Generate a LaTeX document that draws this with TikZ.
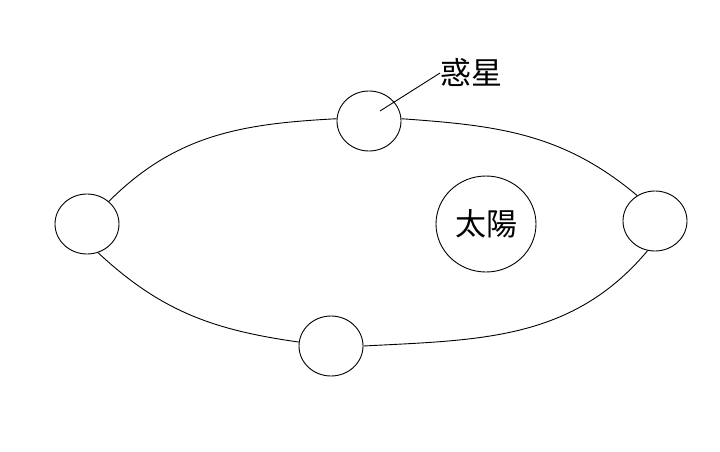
\documentclass[tikz,border=0pt]{standalone}
\usepackage{fontspec}
\newfontfamily\jpfont{Noto Sans CJK JP}
\usetikzlibrary{shapes.geometric}
\begin{document}
\begin{tikzpicture}[x=1pt,y=1pt,line width=0.9pt,
  planet/.style={ellipse,draw,minimum width=64pt,minimum height=60pt,inner sep=0pt},
  sun/.style={ellipse,draw,minimum width=100pt,minimum height=96pt,inner sep=0pt,font=\jpfont\fontsize{31pt}{33pt}\selectfont},
  lbl/.style={inner sep=0pt,font=\jpfont\fontsize{31pt}{33pt}\selectfont},
  orbit/.style={draw}]
\useasboundingbox[fill=white] (0,0) rectangle (720,451);
\node[planet] (L) at (87,227) {};
\node[planet] (T) at (369,330) {};
\node[planet] (R) at (655,230) {};
\node[planet] (B) at (331,105) {};
\node[sun] (S) at (486,227) {太陽};
\node[lbl] (P) at (471.5,378) {惑星};
\coordinate (tip) at (380,340);
\draw[orbit] (L.46) to[out=45,in=183] (T.176);
\draw[orbit] (T.4) to[out=-4,in=140] (R.125);
\draw[orbit] (R.256) to[out=230,in=3] (B.0);
\draw[orbit] (B.173) to[out=172,in=-43] (L.-69);
\draw (P.west) -- (tip);
\end{tikzpicture}
\end{document}
